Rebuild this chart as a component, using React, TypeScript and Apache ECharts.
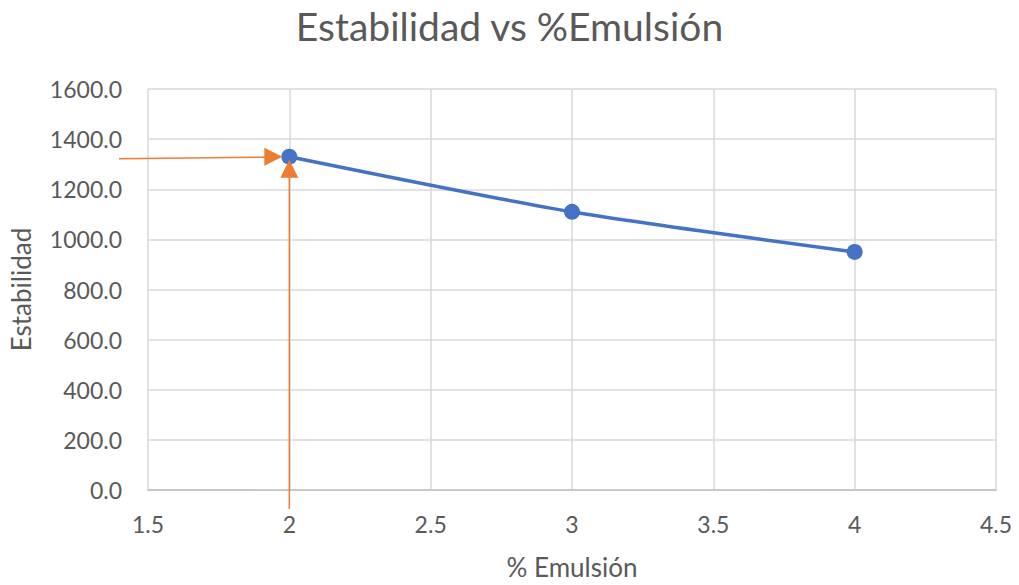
import React, { useEffect, useRef } from "react";
import * as echarts from "echarts";

const emulsion = [2, 3, 4];
const estabilidad = [1330, 1110, 950];
const highlightIndex = 0;

const FONT = "Lato, 'Noto Sans', sans-serif";
const TEXT = "#595959";
const ORANGE = "#ED7D31";

export default function App() {
  const ref = useRef<HTMLDivElement>(null);

  useEffect(() => {
    if (!ref.current) return;
    const chart = echarts.init(ref.current, null, { renderer: "svg" });
    chart.setOption({
      animation: false,
      backgroundColor: "#ffffff",
      title: {
        text: "Estabilidad vs %Emulsión",
        left: "center",
        top: 1,
        textStyle: { fontFamily: FONT, fontSize: 39, fontWeight: "normal", color: TEXT },
      },
      grid: { left: 148, right: 23, top: 89, bottom: 95 },
      xAxis: {
        type: "value",
        min: 1.5,
        max: 4.5,
        interval: 0.5,
        name: "% Emulsión",
        nameLocation: "middle",
        nameGap: 64,
        nameTextStyle: { fontFamily: FONT, fontSize: 26, color: TEXT },
        axisLine: { show: true, lineStyle: { color: "#bfbfbf", width: 1.5 } },
        axisTick: { show: false },
        axisLabel: {
          fontFamily: FONT,
          fontSize: 23,
          color: TEXT,
          margin: 22,
          formatter: (v: number) => String(v),
        },
        splitLine: { show: true, lineStyle: { color: "#d9d9d9", width: 1.5 } },
      },
      yAxis: {
        type: "value",
        min: 0,
        max: 1600,
        interval: 200,
        name: "Estabilidad",
        nameLocation: "middle",
        nameGap: 114,
        nameTextStyle: { fontFamily: FONT, fontSize: 26, color: TEXT },
        axisLine: { show: false },
        axisTick: { show: false },
        axisLabel: {
          fontFamily: FONT,
          fontSize: 23,
          color: TEXT,
          margin: 26,
          formatter: (v: number) => v.toFixed(1),
        },
        splitLine: { show: true, lineStyle: { color: "#d9d9d9", width: 1.5 } },
      },
      series: [
        {
          type: "line",
          data: emulsion.map((x, i) => [x, estabilidad[i]]),
          smooth: 0.25,
          symbol: "circle",
          symbolSize: 16,
          lineStyle: { color: "#4472C4", width: 3.5 },
          itemStyle: { color: "#4472C4" },
        },
      ],
    });

    // Orange arrows pointing at the highlighted point
    const p = chart.convertToPixel({ gridIndex: 0 }, [
      emulsion[highlightIndex],
      estabilidad[highlightIndex],
    ]) as number[];
    const [px, py] = p;
    const stroke = { stroke: ORANGE, lineWidth: 1.5 };
    chart.setOption({
      graphic: [
        {
          type: "line",
          shape: { x1: 119, y1: py + 2, x2: px - 20, y2: py + 0.5 },
          style: stroke,
          z: 100,
        },
        {
          type: "polygon",
          shape: { points: [[px - 7, py], [px - 25, py - 9], [px - 25, py + 9]] },
          style: { fill: ORANGE },
          z: 100,
        },
        {
          type: "line",
          shape: { x1: px, y1: 509, x2: px, y2: py + 18 },
          style: stroke,
          z: 100,
        },
        {
          type: "polygon",
          shape: { points: [[px, py + 3], [px - 9, py + 21], [px + 9, py + 21]] },
          style: { fill: ORANGE },
          z: 100,
        },
      ],
    });

    return () => chart.dispose();
  }, []);

  return <div ref={ref} style={{ width: 1019, height: 585, margin: -8 }} />;
}
